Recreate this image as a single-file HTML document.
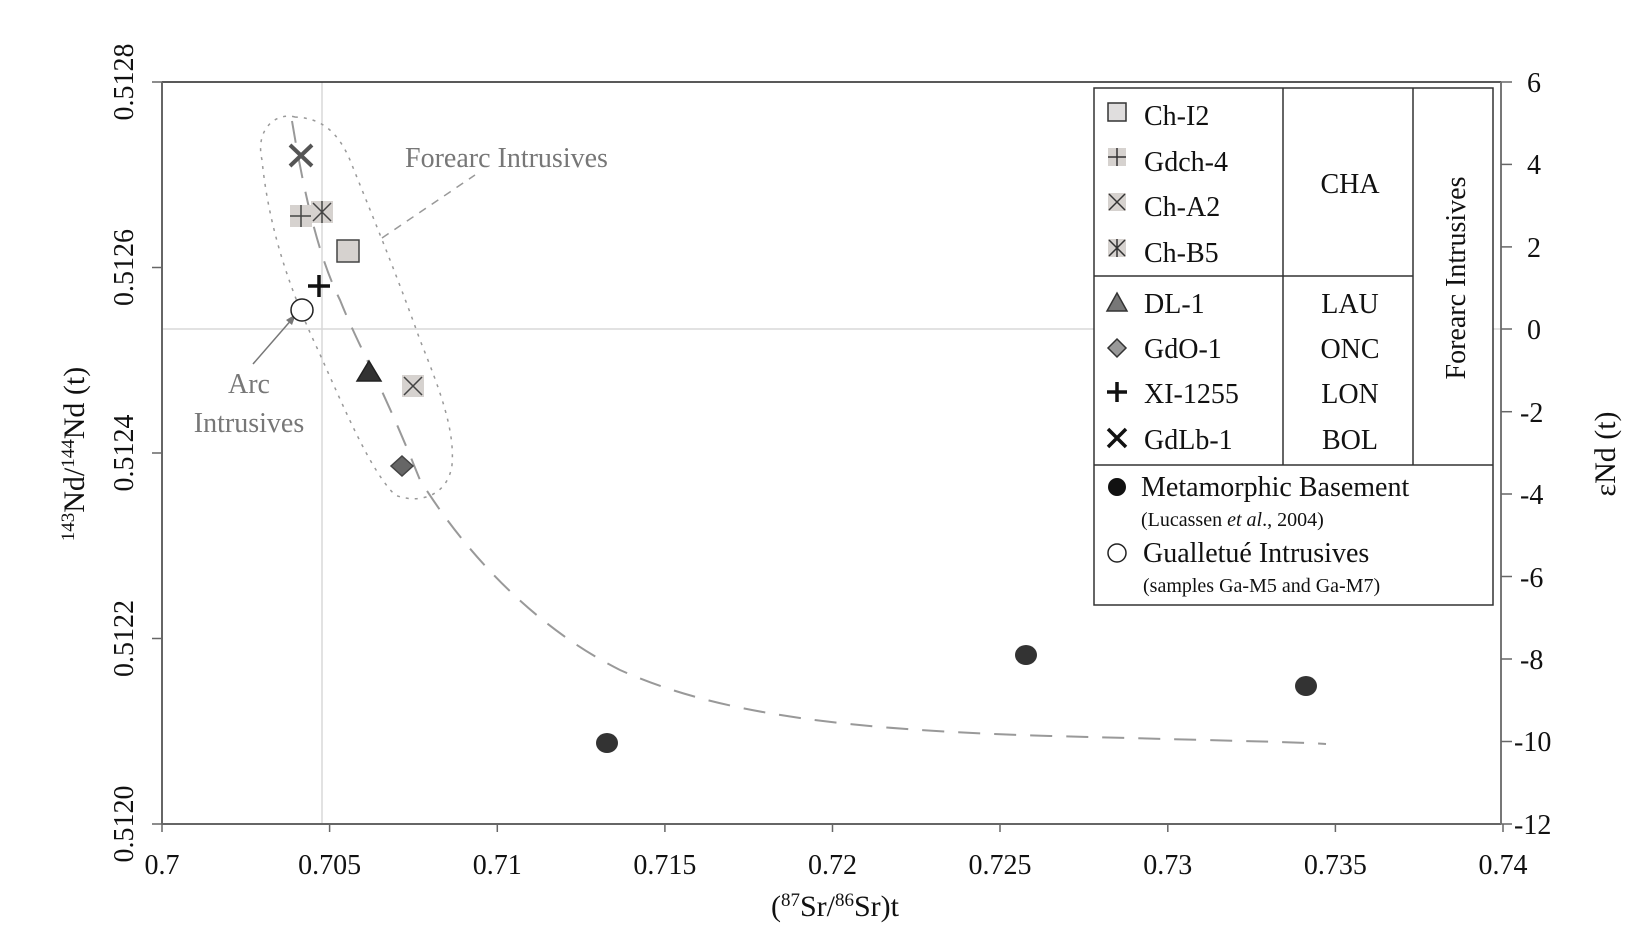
<!DOCTYPE html>
<html><head><meta charset="utf-8"><style>
html,body{margin:0;padding:0;background:#fff;}
svg{display:block;font-family:"Liberation Serif",serif;}
</style></head><body>
<svg width="1648" height="949" viewBox="0 0 1648 949" xmlns="http://www.w3.org/2000/svg">
<!-- guide lines -->
<line x1="322" y1="82" x2="322" y2="824" stroke="#d8d8d8" stroke-width="1.5"/>
<line x1="162" y1="329" x2="1501" y2="329" stroke="#d8d8d8" stroke-width="1.5"/>
<!-- axes -->
<line x1="162" y1="82" x2="1501" y2="82" stroke="#222" stroke-width="1.5"/>
<line x1="162" y1="82" x2="162" y2="824" stroke="#666" stroke-width="2"/>
<line x1="162" y1="824" x2="1501" y2="824" stroke="#666" stroke-width="2"/>
<line x1="1501" y1="82" x2="1501" y2="824" stroke="#777" stroke-width="2"/>
<g stroke="#666" stroke-width="1.5">
<line x1="152" y1="82" x2="162" y2="82"/><line x1="152" y1="267.5" x2="162" y2="267.5"/><line x1="152" y1="453" x2="162" y2="453"/><line x1="152" y1="638.5" x2="162" y2="638.5"/><line x1="152" y1="824" x2="162" y2="824"/>
<line x1="162" y1="824" x2="162" y2="832"/><line x1="329.6" y1="824" x2="329.6" y2="832"/><line x1="497.3" y1="824" x2="497.3" y2="832"/><line x1="664.9" y1="824" x2="664.9" y2="832"/><line x1="832.5" y1="824" x2="832.5" y2="832"/><line x1="1000" y1="824" x2="1000" y2="832"/><line x1="1167.8" y1="824" x2="1167.8" y2="832"/><line x1="1335.4" y1="824" x2="1335.4" y2="832"/><line x1="1503" y1="824" x2="1503" y2="832"/>
<line x1="1501" y1="82" x2="1512" y2="82"/><line x1="1501" y1="164.4" x2="1512" y2="164.4"/><line x1="1501" y1="246.9" x2="1512" y2="246.9"/><line x1="1501" y1="329" x2="1512" y2="329"/><line x1="1501" y1="411.7" x2="1512" y2="411.7"/><line x1="1501" y1="494" x2="1512" y2="494"/><line x1="1501" y1="576.5" x2="1512" y2="576.5"/><line x1="1501" y1="659" x2="1512" y2="659"/><line x1="1501" y1="741.5" x2="1512" y2="741.5"/><line x1="1501" y1="824" x2="1512" y2="824"/>
</g>
<!-- left tick labels -->
<g font-size="28" fill="#111" text-anchor="middle">
<text transform="translate(133,82) rotate(-90)">0.5128</text>
<text transform="translate(133,267.5) rotate(-90)">0.5126</text>
<text transform="translate(133,453) rotate(-90)">0.5124</text>
<text transform="translate(133,638.5) rotate(-90)">0.5122</text>
<text transform="translate(133,824) rotate(-90)">0.5120</text>
<text x="162" y="874">0.7</text><text x="329.6" y="874">0.705</text><text x="497.3" y="874">0.71</text><text x="664.9" y="874">0.715</text><text x="832.5" y="874">0.72</text><text x="1000" y="874">0.725</text><text x="1167.8" y="874">0.73</text><text x="1335.4" y="874">0.735</text><text x="1503" y="874">0.74</text>
</g>
<g font-size="28" fill="#111" text-anchor="start">
<text x="1527" y="92">6</text><text x="1527" y="174">4</text><text x="1527" y="257">2</text><text x="1527" y="339">0</text><text x="1520" y="422">-2</text><text x="1520" y="504">-4</text><text x="1520" y="587">-6</text><text x="1520" y="669">-8</text><text x="1514" y="751">-10</text><text x="1514" y="834">-12</text>
</g>
<text transform="translate(84,454) rotate(-90)" font-size="30" text-anchor="middle" fill="#111"><tspan font-size="19" dy="-10">143</tspan><tspan dy="10">Nd/</tspan><tspan font-size="19" dy="-10">144</tspan><tspan dy="10">Nd (t)</tspan></text>
<text transform="translate(1615,454) rotate(-90)" font-size="30" text-anchor="middle" fill="#111">εNd (t)</text>
<text x="835" y="916" font-size="30" text-anchor="middle" fill="#111">(<tspan font-size="19" dy="-10">87</tspan><tspan dy="10">Sr/</tspan><tspan font-size="19" dy="-10">86</tspan><tspan dy="10">Sr)t</tspan></text>
<!-- dashed mixing curve -->
<path d="M292,121 C305,200 320,260 340,300 C360,350 380,380 420,480 C470,560 540,630 620,670 C720,715 850,730 1050,736 C1200,740 1300,742 1326,744" fill="none" stroke="#999" stroke-width="2" stroke-dasharray="22,14"/>
<!-- dotted ellipse -->
<path d="M295,117 C275,112 255,130 262,160 C268,220 285,280 318,350 C345,410 370,470 395,495 C420,505 448,495 452,465 C455,430 440,390 420,340 C395,270 372,215 350,160 C335,125 315,118 295,117 Z" fill="none" stroke="#999" stroke-width="1.5" stroke-dasharray="3,6"/>
<line x1="382" y1="238" x2="475" y2="175" stroke="#999" stroke-width="1.5" stroke-dasharray="8,7"/>
<text x="405" y="167" font-size="28" fill="#777">Forearc Intrusives</text>
<line x1="253" y1="364" x2="293" y2="318" stroke="#777" stroke-width="1.5"/>
<path d="M296,314 L286,320 L292,325 Z" fill="#777"/>
<text x="249" y="393" font-size="28" fill="#777" text-anchor="middle">Arc</text>
<text x="249" y="432" font-size="28" fill="#777" text-anchor="middle">Intrusives</text>
<!-- data points -->
<g stroke-width="1.5">
<rect x="290" y="205" width="22" height="22" fill="#d6d2cf"/>
<path d="M290,216 h22 M301,205 v22" stroke="#444"/>
<rect x="311" y="201" width="22" height="22" fill="#d6d2cf"/>
<path d="M313,203 l18,18 M331,203 l-18,18 M322,201 v22" stroke="#444"/>
<rect x="337" y="240" width="22" height="22" fill="#d6d2cf" stroke="#444"/>
<path d="M308,286 h22 M319,275 v22" stroke="#111" stroke-width="3.5"/>
<circle cx="302" cy="310" r="11" fill="#fff" stroke="#222"/>
<path d="M290,145 l22,21 M312,145 l-22,21" stroke="#555" stroke-width="4"/>
<path d="M369,361 L381,381 L357,381 Z" fill="#333" stroke="#222"/>
<rect x="402" y="375" width="22" height="22" fill="#d6d2cf"/>
<path d="M404,377 l18,18 M422,377 l-18,18" stroke="#444"/>
<path d="M402,456 L413,466 L402,476 L391,466 Z" fill="#666" stroke="#444"/>
<ellipse cx="607" cy="743" rx="11" ry="10" fill="#333"/>
<ellipse cx="1026" cy="655" rx="11" ry="10" fill="#333"/>
<ellipse cx="1306" cy="686" rx="11" ry="10" fill="#333"/>
</g>
<!-- legend -->
<rect x="1094" y="88" width="399" height="517" fill="#fff" stroke="#333" stroke-width="1.5"/>
<g stroke="#333" stroke-width="1.5">
<line x1="1283" y1="88" x2="1283" y2="465"/><line x1="1413" y1="88" x2="1413" y2="465"/>
<line x1="1094" y1="276" x2="1413" y2="276"/><line x1="1094" y1="465" x2="1493" y2="465"/>
</g>
<g stroke-width="1.5">
<rect x="1108" y="103" width="18" height="18" fill="#e0dede" stroke="#333"/>
<rect x="1108" y="148" width="18" height="18" fill="#d6d2cf"/><path d="M1108,157 h18 M1117,148 v18" stroke="#333"/>
<rect x="1108" y="193" width="18" height="18" fill="#d6d2cf"/><path d="M1109,194 l16,16 M1125,194 l-16,16" stroke="#333"/>
<rect x="1108" y="239" width="18" height="18" fill="#d6d2cf"/><path d="M1109,240 l16,16 M1125,240 l-16,16 M1117,239 v18" stroke="#333"/>
<path d="M1117,293 L1127,311 L1107,311 Z" fill="#777" stroke="#333"/>
<path d="M1117,339 L1126,348 L1117,357 L1108,348 Z" fill="#999" stroke="#333"/>
<path d="M1107,392 h20 M1117,382 v20" stroke="#111" stroke-width="3.5"/>
<path d="M1108,429 l18,18 M1126,429 l-18,18" stroke="#111" stroke-width="3.5"/>
<circle cx="1117" cy="487" r="9" fill="#111"/>
<circle cx="1117" cy="553" r="9" fill="#fff" stroke="#222"/>
</g>
<g font-size="28" fill="#111">
<text x="1144" y="125">Ch-I2</text><text x="1144" y="171">Gdch-4</text><text x="1144" y="216">Ch-A2</text><text x="1144" y="262">Ch-B5</text>
<text x="1144" y="313">DL-1</text><text x="1144" y="358">GdO-1</text><text x="1144" y="403">XI-1255</text><text x="1144" y="449">GdLb-1</text>
<g text-anchor="middle"><text x="1350" y="193">CHA</text><text x="1350" y="313">LAU</text><text x="1350" y="358">ONC</text><text x="1350" y="403">LON</text><text x="1350" y="449">BOL</text></g>
<text transform="translate(1465,278) rotate(-90)" text-anchor="middle">Forearc Intrusives</text>
<text x="1141" y="496">Metamorphic Basement</text>
<text x="1143" y="562">Gualletué Intrusives</text>
</g>
<text x="1141" y="526" font-size="20" fill="#111">(Lucassen <tspan font-style="italic">et al</tspan>., 2004)</text>
<text x="1143" y="592" font-size="20" fill="#111">(samples Ga-M5 and Ga-M7)</text>
</svg>
</body></html>
